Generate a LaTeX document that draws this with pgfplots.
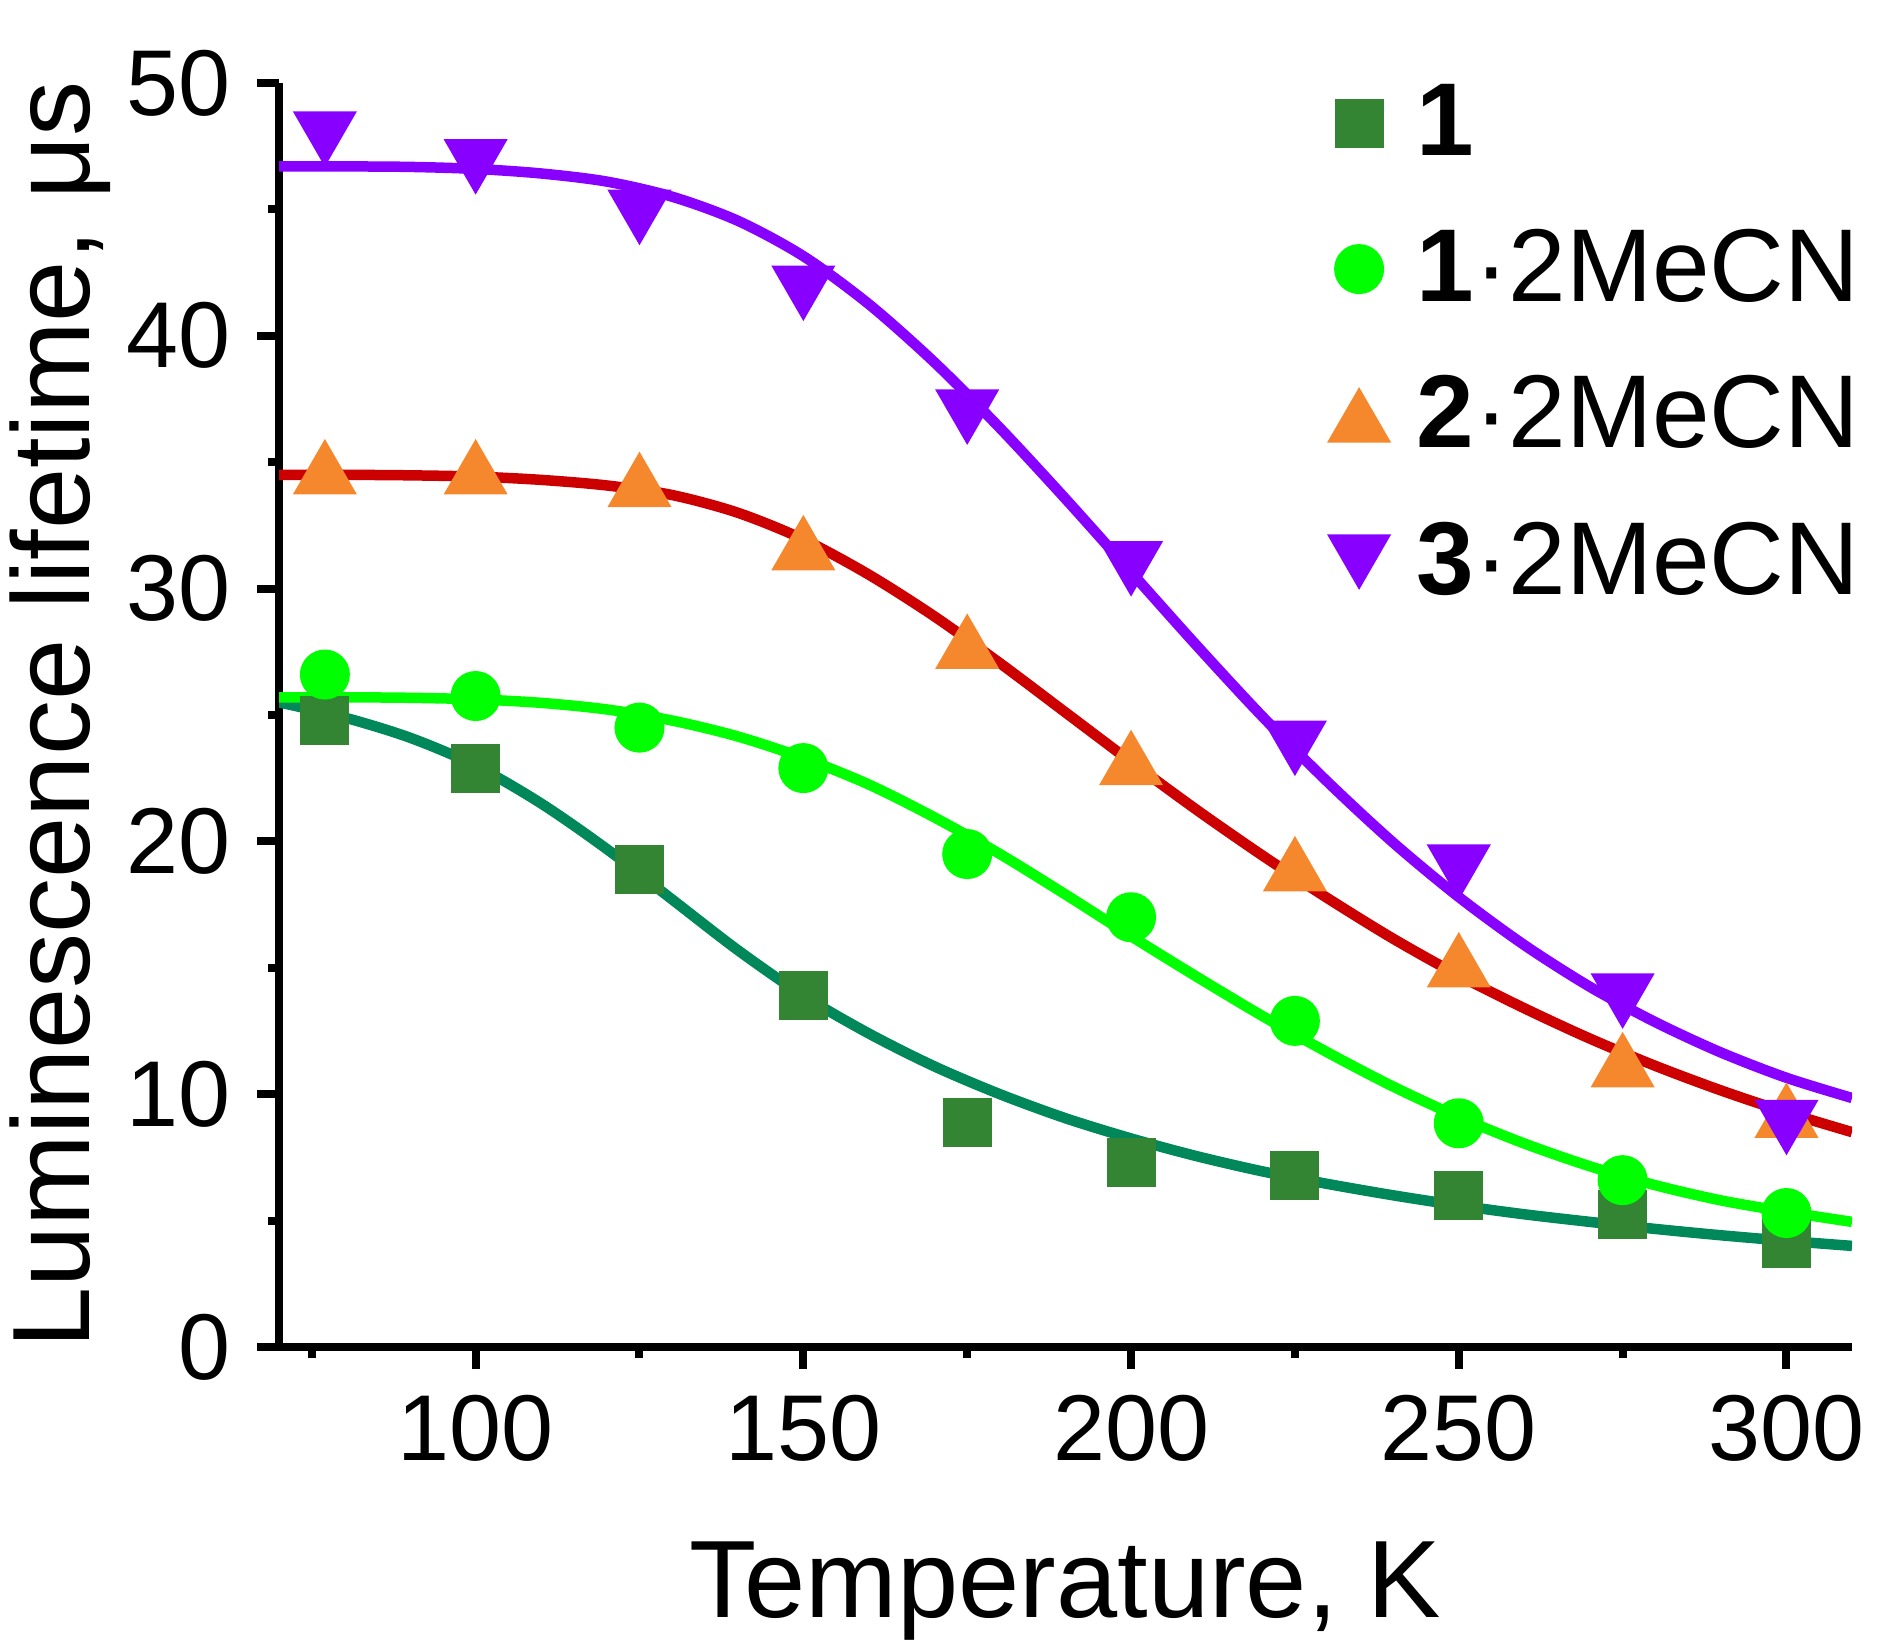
\documentclass[border=0pt]{standalone}
\usepackage{pgfplots}
\pgfplotsset{compat=1.18}
\usepackage{fontspec}
\setmainfont{Liberation Sans}
\usetikzlibrary{calc}

\definecolor{sqgreen}{RGB}{51,133,51}
\definecolor{fitteal}{RGB}{0,135,90}
\definecolor{ptgreen}{RGB}{0,255,0}
\definecolor{ptorange}{RGB}{245,135,45}
\definecolor{fitred}{RGB}{204,0,0}
\definecolor{ptpurple}{RGB}{136,0,255}

\begin{document}
\begin{tikzpicture}
\begin{axis}[
  scale only axis, width=314.6pt, height=252.8pt,
  xmin=70, xmax=310, ymin=0, ymax=50,
  axis x line*=bottom, axis y line*=left,
  axis line style={line width=1.6pt, -},
  tick align=outside, major tick length=4.4pt, minor tick length=2.2pt,
  tick style={line width=1.6pt, black},
  xtick={100,150,...,300}, minor xtick={75,125,...,275},
  ytick={0,10,...,50}, minor ytick={5,15,...,45},
  /pgf/number format/assume math mode=true,
  tick label style={font=\fontsize{18.7}{20}\selectfont},
  xticklabel style={inner sep=0pt, anchor=north, yshift=-5pt},
  yticklabel style={inner sep=0pt, anchor=east, xshift=-5pt},
  label style={font=\fontsize{22}{24}\selectfont},
  xlabel={Temperature, K},
  ylabel={Luminescence lifetime, μs},
  xlabel style={at={(axis description cs:0.5,-0.193)}, anchor=center},
  ylabel style={at={(axis description cs:-0.139,0.5)}, anchor=center},
  legend style={at={(rel axis cs:0.686,1)}, anchor=north west, xshift=-7pt,
    draw=none, fill=none, inner sep=0pt, row sep=13.3pt,
    font=\fontsize{20.7}{22}\selectfont, nodes={inner sep=0pt}},
  legend cell align=left,
  legend image code/.code={\path[draw=none, fill=none] (-7pt,-7pt) rectangle (11.5pt,7pt);
    \draw[#1] plot coordinates {(0pt,0pt)};},
]
\coordinate (sw) at (rel axis cs:0,0);
\coordinate (ne) at (rel axis cs:1,1);

% measured lifetimes
\addplot[only marks, mark=square*, mark size=4.7pt, color=sqgreen] coordinates {
(77,24.8) (100,22.9) (125,18.9) (150,13.9) (175,8.9)
(200,7.3) (225,6.8) (250,6.0) (275,5.25) (300,4.1)
};
\addlegendentry{\textbf{1}}
\addplot[only marks, mark=*, mark size=4.8pt, color=ptgreen] coordinates {
(77,26.6) (100,25.75) (125,24.5) (150,22.9) (175,19.5)
(200,17.0) (225,12.9) (250,8.85) (275,6.6) (300,5.3)
};
\addlegendentry{\textbf{1}·2MeCN}
\addplot[only marks, mark=triangle*, mark size=7pt, color=ptorange,
  mark options={yshift=-1.75pt}] coordinates {
(77,34.8) (100,34.8) (125,34.3) (150,31.8) (175,27.9)
(200,23.3) (225,19.1) (250,15.3) (275,11.35) (300,9.35)
};
\addlegendentry{\textbf{2}·2MeCN}
\addplot[only marks, mark=triangle*, mark size=7pt, color=ptpurple,
  mark options={yshift=1.75pt, rotate=180}] coordinates {
(77,47.8) (100,46.7) (125,44.7) (150,41.7) (175,36.8)
(200,30.8) (225,23.7) (250,18.8) (275,13.7) (300,8.7)
};
\addlegendentry{\textbf{3}·2MeCN}

% fitted curves
\addplot[forget plot, smooth, no marks, line width=2.1pt, color=fitteal] coordinates {
(70,25.5) (80,24.9) (90,24.1) (100,23.0) (110,21.5) (120,19.7) (130,17.7)
(140,15.7) (150,13.9) (160,12.4) (170,11.1) (180,10.0) (190,9.05) (200,8.25)
(210,7.55) (220,6.95) (230,6.45) (240,6.0) (250,5.6) (260,5.25) (270,4.95)
(280,4.67) (290,4.42) (300,4.2) (310,4.0)
};
\addplot[forget plot, smooth, no marks, line width=2.1pt, color=ptgreen] coordinates {
(70,25.70) (80,25.70) (90,25.68) (100,25.62) (110,25.48) (120,25.22) (130,24.78)
(140,24.15) (150,23.30) (160,22.25) (170,20.95) (180,19.50) (190,17.90) (200,16.25)
(210,14.65) (220,13.10) (230,11.65) (240,10.30) (250,9.10) (260,8.05) (270,7.15)
(280,6.40) (290,5.80) (300,5.35) (310,4.95)
};
\addplot[forget plot, smooth, no marks, line width=2.1pt, color=fitred] coordinates {
(70,34.50) (80,34.50) (90,34.48) (100,34.43) (110,34.30) (120,34.08) (130,33.70)
(140,33.00) (150,31.95) (160,30.55) (170,28.90) (180,27.05) (190,25.10) (200,23.15)
(210,21.25) (220,19.45) (230,17.75) (240,16.15) (250,14.70) (260,13.40) (270,12.20)
(280,11.12) (290,10.15) (300,9.28) (310,8.50)
};
\addplot[forget plot, smooth, no marks, line width=2.1pt, color=ptpurple] coordinates {
(70,46.70) (80,46.70) (90,46.68) (100,46.60) (110,46.42) (120,46.10) (130,45.50)
(140,44.55) (150,43.15) (160,41.25) (170,38.95) (180,36.35) (190,33.55) (200,30.65)
(210,27.75) (220,24.95) (230,22.35) (240,19.95) (250,17.80) (260,15.90) (270,14.25)
(280,12.85) (290,11.65) (300,10.65) (310,9.85)
};
\end{axis}
\pgfresetboundingbox
\path ($(sw)+(-55.8pt,-59.4pt)$) rectangle ($(ne)+(7.8pt,16.6pt)$);
\end{tikzpicture}
\end{document}
